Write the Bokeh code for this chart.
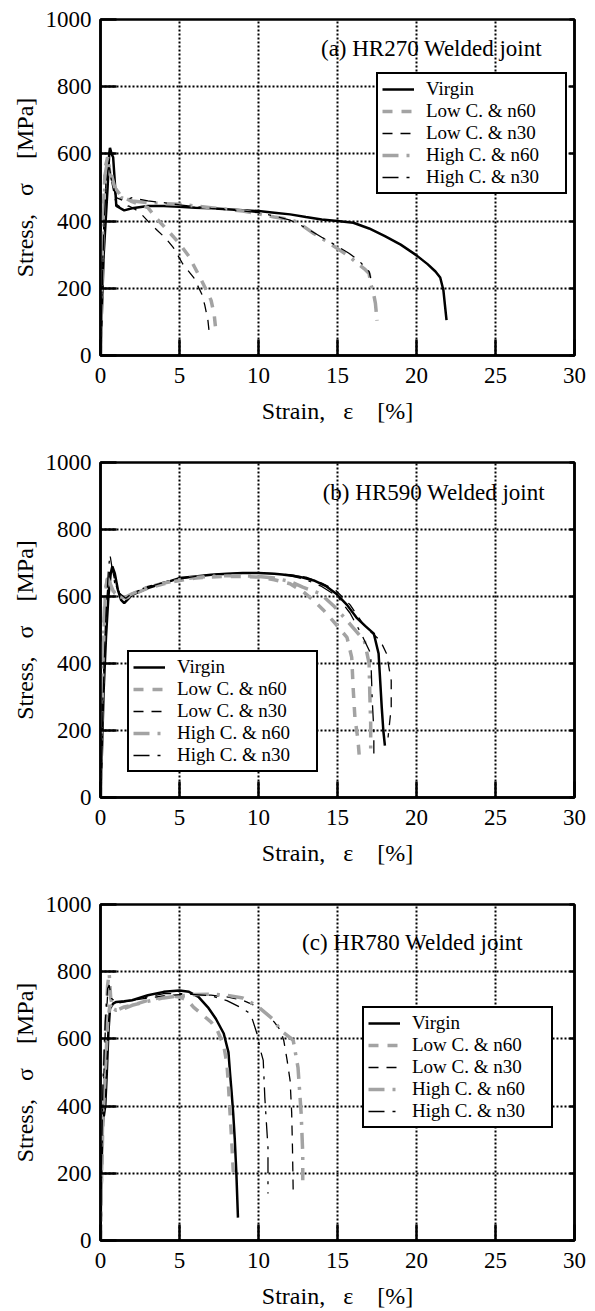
from bokeh.plotting import figure
from bokeh.models import LinearAxis, FixedTicker, Range1d, Legend, LegendItem, Label
from bokeh.layouts import column
from bokeh.embed import file_html
from bokeh.resources import INLINE

FONT = "Liberation Serif"
AXFONT = "'Liberation Serif'"
NB = "\u00a0"

x_ticks = [0, 5, 10, 15, 20, 25, 30]
y_ticks = [0, 200, 400, 600, 800, 1000]
series_names = ["Virgin", "Low C. & n60", "Low C. & n30", "High C. & n60", "High C. & n30"]
panel_titles = ["(a) HR270 Welded joint", "(b) HR590 Welded joint", "(c) HR780 Welded joint"]
x_label = "Strain," + NB * 3 + "ε" + NB * 4 + "[%]"
y_label = "Stress," + NB * 3 + "σ" + NB * 4 + "[MPa]"

# ---------------- panel (a) HR270 ----------------
a_virgin_x = [0, 0.1, 0.2, 0.3, 0.45, 0.55, 0.6, 0.7, 0.8, 0.9, 1.0, 1.5, 2.0, 3.0, 4.0, 5.0, 6.0, 7.0, 8.0, 9.0, 10.0,
              11.0, 12.0, 13.0, 14.0, 15.0, 16.0, 17.0, 18.0, 19.0, 20.0, 20.7, 21.2, 21.5, 21.7, 21.8, 21.9]
a_virgin_y = [0, 150, 300, 380, 500, 600, 618, 600, 590, 520, 445, 432, 438, 445, 445, 443, 440, 438, 435, 432, 430,
              425, 420, 412, 405, 400, 395, 378, 355, 330, 298, 272, 250, 232, 195, 150, 105]
a_low60_x = [0, 0.05, 0.15, 0.3, 0.45, 0.6, 0.9, 1.3, 2.0, 3.0, 3.6, 4.2, 5.0, 5.6, 6.3, 6.8, 7.0, 7.2, 7.3]
a_low60_y = [0, 150, 400, 560, 590, 540, 500, 475, 458, 440, 405, 375, 333, 295, 232, 185, 164, 120, 74]
a_low30_x = [0, 0.1, 0.2, 0.35, 0.5, 0.7, 1.0, 1.3, 1.8, 2.2, 2.6, 3.0, 3.6, 4.1, 4.6, 5.2, 5.9, 6.4, 6.6, 6.8, 6.9]
a_low30_y = [0, 200, 380, 520, 580, 520, 450, 440, 445, 435, 420, 400, 372, 350, 322, 273, 232, 184, 150, 104, 60]
a_high60_x = [0, 0.05, 0.15, 0.3, 0.45, 0.6, 0.9, 1.3, 2, 3, 4, 5, 6, 7, 8, 9, 10, 11, 12, 12.5, 13.5, 14.3, 15,
              15.7, 16.3, 16.7, 17.0, 17.1, 17.3, 17.4, 17.5]
a_high60_y = [0, 120, 350, 540, 580, 555, 500, 470, 460, 455, 452, 450, 445, 440, 435, 430, 422, 412, 405, 396, 363,
              340, 318, 296, 273, 258, 244, 214, 180, 155, 104]
a_high30_x = [0, 0.1, 0.2, 0.35, 0.5, 0.7, 1.0, 1.5, 2, 3, 4, 5, 6, 7, 8, 9, 10, 11, 12, 13, 14, 15, 15.7, 16.3,
              16.7, 17.0, 17.1]
a_high30_y = [0, 180, 360, 500, 560, 520, 470, 460, 470, 460, 455, 448, 443, 438, 434, 430, 425, 415, 403, 380, 352,
              325, 305, 285, 265, 250, 230]

# ---------------- panel (b) HR590 ----------------
b_virgin_x = [0, 0.1, 0.2, 0.35, 0.5, 0.65, 0.75, 0.9, 1.1, 1.3, 1.5, 2, 3, 4, 5, 6, 7, 8, 9, 10, 11, 11.5, 12.5,
              13.5, 14.3, 14.9, 15.6, 16.2, 16.8, 17.3, 17.6, 17.7, 17.8, 17.9, 18.0]
b_virgin_y = [0, 150, 320, 480, 600, 670, 690, 670, 620, 590, 580, 605, 625, 640, 655, 660, 665, 668, 670, 670, 668,
              666, 660, 648, 630, 609, 575, 537, 510, 489, 430, 350, 269, 200, 155]
b_low60_x = [0, 0.05, 0.15, 0.3, 0.45, 0.6, 0.9, 1.2, 1.6, 2, 3, 4, 5, 6, 7, 8, 9, 10, 11, 12, 12.8, 13.5, 14.1,
             14.7, 15.2, 15.6, 15.9, 16.0, 16.1, 16.3, 16.4]
b_low60_y = [0, 150, 400, 600, 660, 640, 605, 600, 595, 605, 625, 638, 648, 655, 658, 660, 660, 658, 650, 638, 615,
             588, 560, 528, 500, 478, 418, 319, 240, 170, 110]
b_low30_x = [0, 0.1, 0.2, 0.35, 0.5, 0.65, 0.8, 1.0, 1.3, 1.6, 2, 3, 4, 5, 6, 7, 8, 9, 10, 11, 12, 13, 14, 14.9,
             15.8, 16.6, 17.2, 17.7, 18.1, 18.4, 18.4, 18.2]
b_low30_y = [0, 200, 380, 560, 650, 690, 670, 630, 600, 595, 610, 630, 643, 655, 660, 665, 668, 670, 670, 668, 665,
             658, 640, 618, 575, 519, 490, 469, 430, 349, 269, 179]
b_high60_x = [0, 0.05, 0.15, 0.3, 0.45, 0.6, 0.9, 1.2, 1.6, 2, 3, 4, 5, 6, 7, 8, 9, 10, 11, 12, 12.8, 13.9, 14.8,
              15.6, 16.2, 16.7, 17.0, 17.05, 17.1, 17.1]
b_high60_y = [0, 180, 450, 620, 655, 640, 610, 600, 598, 608, 628, 640, 650, 657, 660, 662, 662, 660, 655, 645, 628,
              609, 570, 528, 495, 468, 400, 300, 221, 125]
b_high30_x = [0, 0.1, 0.2, 0.35, 0.5, 0.6, 0.75, 0.9, 1.2, 1.6, 2, 3, 4, 5, 6, 7, 8, 9, 10, 11, 12, 13, 14, 15,
              15.8, 16.5, 17.1, 17.2, 17.3, 17.3]
b_high30_y = [0, 150, 350, 550, 680, 725, 680, 640, 610, 595, 610, 628, 642, 652, 660, 665, 668, 670, 670, 668, 662,
              650, 630, 600, 550, 489, 430, 290, 200, 131]

# ---------------- panel (c) HR780 ----------------
c_virgin_x = [0, 0.05, 0.15, 0.3, 0.4, 0.5, 0.6, 0.8, 1.0, 1.5, 2, 3, 4, 5, 5.6, 6.2, 6.8, 7.3, 7.8, 8.1, 8.2, 8.3,
              8.4, 8.5, 8.6, 8.7]
c_virgin_y = [0, 200, 350, 400, 500, 620, 690, 705, 710, 712, 715, 730, 740, 744, 740, 725, 694, 660, 616, 560, 497,
              440, 378, 300, 199, 68]
c_low60_x = [0, 0.05, 0.15, 0.3, 0.45, 0.6, 0.8, 1.0, 1.5, 2, 3, 4, 4.5, 5, 5.5, 5.9, 6.5, 7.0, 7.4, 7.8, 8.0, 8.1,
             8.2, 8.3, 8.4, 8.45]
c_low60_y = [0, 150, 350, 500, 650, 700, 690, 685, 695, 700, 715, 725, 728, 725, 715, 694, 670, 650, 625, 580, 527,
             460, 378, 300, 208, 180]
c_low30_x = [0, 0.05, 0.15, 0.3, 0.45, 0.55, 0.7, 1.0, 1.5, 2, 3, 4, 5, 6, 7, 8, 9, 10, 10.5, 11.0, 11.4, 11.6,
             11.8, 12.0, 12.1, 12.15, 12.2]
c_low30_y = [0, 150, 400, 620, 730, 745, 715, 705, 710, 715, 722, 728, 732, 733, 730, 725, 715, 695, 675, 650, 625,
             595, 540, 476, 380, 277, 134]
c_high60_x = [0, 0.05, 0.15, 0.3, 0.45, 0.55, 0.65, 0.8, 1.0, 1.5, 2, 3, 4, 5, 6, 7, 8, 9, 9.3, 10, 11, 11.4, 12.0,
              12.2, 12.5, 12.7, 12.8, 12.8]
c_high60_y = [0, 150, 400, 600, 760, 795, 720, 690, 685, 690, 700, 712, 722, 728, 732, 733, 730, 722, 714, 695, 655,
              625, 604, 595, 515, 378, 259, 179]
c_high30_x = [0, 0.05, 0.15, 0.3, 0.45, 0.55, 0.7, 1.0, 1.5, 2, 3, 4, 5, 6, 7, 8.0, 8.8, 9.5, 9.9, 10.1, 10.3, 10.4,
              10.5, 10.6, 10.6]
c_high30_y = [0, 200, 450, 650, 750, 760, 720, 710, 712, 715, 725, 735, 735, 732, 728, 714, 695, 675, 616, 570, 536,
              426, 350, 277, 140]

GRAY = "#a3a3a3"
styles = [
    dict(line_color="black", line_width=2.5, line_dash="solid"),
    dict(line_color=GRAY, line_width=3.5, line_dash="10 9"),
    dict(line_color="black", line_width=1.3, line_dash="10 8"),
    dict(line_color=GRAY, line_width=3.5, line_dash="16 8 3 8"),
    dict(line_color="black", line_width=1.3, line_dash="16 8 3 8"),
]

panels = [
    dict(title=panel_titles[0], tx=20.95, ty=914,
         series=[(a_virgin_x, a_virgin_y), (a_low60_x, a_low60_y), (a_low30_x, a_low30_y),
                 (a_high60_x, a_high60_y), (a_high30_x, a_high30_y)],
         leg=(276, 161), height=450, top=19, bottom=95),
    dict(title=panel_titles[1], tx=21.1, ty=910,
         series=[(b_virgin_x, b_virgin_y), (b_low60_x, b_low60_y), (b_low30_x, b_low30_y),
                 (b_high60_x, b_high60_y), (b_high30_x, b_high30_y)],
         leg=(27, 25), height=442, top=12, bottom=95),
    dict(title=panel_titles[2], tx=19.75, ty=887,
         series=[(c_virgin_x, c_virgin_y), (c_low60_x, c_low60_y), (c_low30_x, c_low30_y),
                 (c_high60_x, c_high60_y), (c_high30_x, c_high30_y)],
         leg=(262, 112), height=419, top=12, bottom=71),
]


def make_panel(cfg):
    p = figure(width=587, height=cfg["height"], output_backend="svg", toolbar_location=None,
               x_range=Range1d(0, 30), y_range=Range1d(0, 1000),
               min_border_left=100, min_border_right=13,
               min_border_top=cfg["top"], min_border_bottom=cfg["bottom"],
               background_fill_color="white", border_fill_color="white")
    p.outline_line_color = "black"
    p.outline_line_width = 2.5
    p.outline_line_alpha = 1

    p.xaxis.ticker = FixedTicker(ticks=x_ticks)
    p.yaxis.ticker = FixedTicker(ticks=y_ticks)
    for ax in (p.xaxis[0], p.yaxis[0]):
        ax.major_tick_in = 16
        ax.major_tick_out = 0
        ax.minor_tick_line_color = None
        ax.major_tick_line_width = 2.5
        ax.major_tick_line_color = "black"
        ax.axis_line_width = 2.5
        ax.axis_line_color = "black"
        ax.major_label_text_font = AXFONT
        ax.major_label_text_font_size = "23px"
        ax.major_label_text_color = "black"
        ax.axis_label_text_font = AXFONT
        ax.axis_label_text_font_size = "24px"
        ax.axis_label_text_font_style = "normal"
        ax.axis_label_text_color = "black"
    p.xaxis.axis_label = x_label
    p.yaxis.axis_label = y_label
    p.xaxis.major_label_standoff = 12
    p.xaxis.axis_label_standoff = 12
    p.yaxis.major_label_standoff = 9
    p.yaxis.axis_label_standoff = 5

    right = LinearAxis(ticker=FixedTicker(ticks=y_ticks), major_label_text_color=None,
                       major_label_text_font_size="1px",
                       major_tick_in=5, major_tick_out=0, minor_tick_line_color=None,
                       major_tick_line_width=2.5, axis_line_width=2.5, major_label_standoff=0)
    p.add_layout(right, "right")

    for g in (p.xgrid[0], p.ygrid[0]):
        g.grid_line_color = "black"
        g.grid_line_width = 2
        g.grid_line_dash = "2 2"
        g.grid_line_alpha = 1

    items = []
    for name, (xs, ys), st in zip(series_names, cfg["series"], styles):
        r = p.line(xs, ys, **st)
        items.append(LegendItem(label=name, renderers=[r]))

    leg = Legend(items=items, location=cfg["leg"], border_line_color="black", border_line_width=2.5,
                 border_line_alpha=1,
                 background_fill_color="white", background_fill_alpha=1,
                 label_text_font=FONT, label_text_font_size="19px", label_text_color="black",
                 glyph_width=32, glyph_height=20, label_height=20, label_width=135, label_standoff=12,
                 spacing=0, padding=4, margin=0)
    p.add_layout(leg)

    p.add_layout(Label(x=cfg["tx"], y=cfg["ty"], text=cfg["title"], text_font=FONT,
                       text_font_size="23px", text_align="center", text_baseline="middle",
                       text_color="black"))
    return p


figs = [make_panel(c) for c in panels]
layout = column(*figs, spacing=0)
open("out.html", "w").write(file_html(layout, INLINE))
